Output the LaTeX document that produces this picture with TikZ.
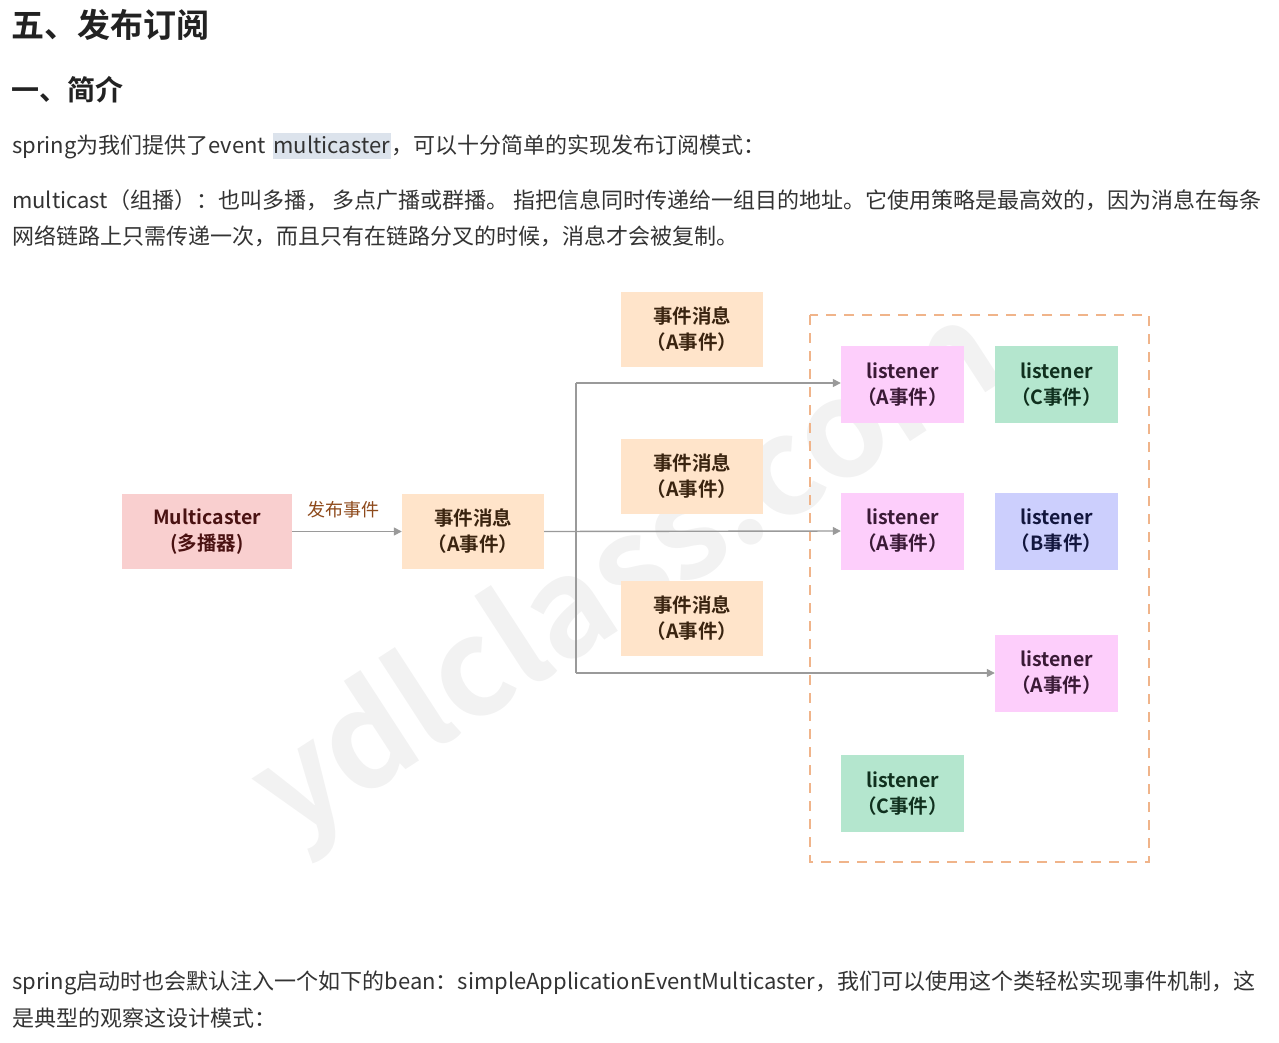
\documentclass[tikz,border=0pt]{standalone}
\usepackage{fontspec}
\setmainfont{Noto Sans CJK SC}
\newfontfamily\boldcjk{Noto Sans CJK SC Bold}
\usetikzlibrary{arrows.meta}
\definecolor{txt}{HTML}{333333}
\definecolor{head}{HTML}{222222}
\definecolor{hl}{HTML}{DCE3EC}
\definecolor{mcfill}{HTML}{F9CFCF}
\definecolor{mctxt}{HTML}{4A1212}
\definecolor{evfill}{HTML}{FFE4CA}
\definecolor{evtxt}{HTML}{3A2410}
\definecolor{pkfill}{HTML}{FDCEFB}
\definecolor{pktxt}{HTML}{3A1A36}
\definecolor{gnfill}{HTML}{B4E6CE}
\definecolor{gntxt}{HTML}{10301E}
\definecolor{blfill}{HTML}{CCCFFD}
\definecolor{bltxt}{HTML}{12163E}
\definecolor{dashcol}{HTML}{F0B48A}
\definecolor{lbl}{HTML}{8E4A1C}
\definecolor{conn}{HTML}{9A9A9A}
\tikzset{
  body/.style={anchor=west,inner sep=0pt,text=txt,font=\fontsize{22}{26}\selectfont},
  boxbase/.style={inner sep=0pt,align=center,font=\boldcjk\fontsize{19.5}{26}\selectfont},
  mcbox/.style={boxbase,fill=mcfill,text=mctxt,minimum width=170pt,minimum height=75pt},
  evbox/.style={boxbase,fill=evfill,text=evtxt,minimum width=142pt,minimum height=75pt},
  lsbox/.style={boxbase,minimum width=123pt,minimum height=77pt},
  lspink/.style={lsbox,fill=pkfill,text=pktxt},
  lsgreen/.style={lsbox,fill=gnfill,text=gntxt},
  lsblue/.style={lsbox,fill=blfill,text=bltxt},
  conline/.style={draw=conn,line width=1.4pt},
  conarrow/.style={conline,-{Triangle[length=8pt,width=8pt]}},
}
\begin{document}
\begin{tikzpicture}[x=1pt,y=1pt]
\useasboundingbox (0,0) rectangle (1279,-1042);
\fill[white] (0,0) rectangle (1279,-1042);

% watermark (faint)
\node[text=black,text opacity=0.05,rotate=33,font=\boldcjk\fontsize{135}{140}\selectfont,inner sep=0pt] (wm) at (630,-578) {ydlclass.com};

% headings
\node[anchor=west,inner sep=0pt,text=head,font=\boldcjk\fontsize{33}{36}\selectfont] (h1) at (11,-25) {五、发布订阅};
\node[anchor=west,inner sep=0pt,text=head,font=\boldcjk\fontsize{28}{32}\selectfont] (h2) at (11,-90) {一、简介};

% body text
\node[body] (p1a) at (12,-147) {spring为我们提供了event};
\node[body,anchor=base west,fill=hl,inner xsep=1pt,inner ysep=0pt,text depth=6pt,text height=20pt,xshift=6pt] (p1b) at (p1a.base east) {multicaster};
\node[body,anchor=base west] (p1c) at (p1b.base east) {，可以十分简单的实现发布订阅模式：};
\node[body] (p2) at (12,-200) {multicast（组播）：也叫多播， 多点广播或群播。 指把信息同时传递给一组目的地址。它使用策略是最高效的，因为消息在每条};
\node[body] (p3) at (12,-236) {网络链路上只需传递一次，而且只有在链路分叉的时候，消息才会被复制。};
\node[body] (p4) at (12,-983) {spring启动时也会默认注入一个如下的bean：simpleApplicationEventMulticaster，我们可以使用这个类轻松实现事件机制，这};
\node[body] (p5) at (12,-1018) {是典型的观察这设计模式：};

% dashed container
\draw[draw=dashcol,line width=1.4pt,dash pattern=on 10pt off 8pt] (810,-315) rectangle (1149,-862);

% boxes
\node[mcbox] (mc) at (207,-531.5) {Multicaster\\(多播器)};
\node[evbox] (ev) at (473,-531.5) {事件消息\\（A事件）};
\node[evbox] (evt) at (692,-329.5) {事件消息\\（A事件）};
\node[evbox] (evm) at (692,-476.5) {事件消息\\（A事件）};
\node[evbox] (evb) at (692,-618.5) {事件消息\\（A事件）};

\node[lspink]  (l11) at (902.5,-384.5) {listener\\（A事件）};
\node[lsgreen] (l12) at (1056.5,-384.5) {listener\\（C事件）};
\node[lspink]  (l21) at (902.5,-531) {listener\\（A事件）};
\node[lsblue]  (l22) at (1056.5,-531) {listener\\（B事件）};
\node[lspink]  (l32) at (1056.5,-673) {listener\\（A事件）};
\node[lsgreen] (l41) at (902.5,-793.5) {listener\\（C事件）};

% connectors
\draw[conarrow] (mc.east) -- node[above=13pt,xshift=-4pt,text=lbl,font=\fontsize{18}{20}\selectfont,inner sep=0pt] (lab) {发布事件} (ev.west);
\coordinate (bt) at (576,-383);
\coordinate (bb) at (576,-673);
\draw[conline] (bt) -- (bb);
\draw[conarrow] (ev.east) -- (l21.west);
\draw[conarrow] (bt) -- (l11.west |- bt);
\draw[conarrow] (bb) -- (l32.west);
\end{tikzpicture}
\end{document}
